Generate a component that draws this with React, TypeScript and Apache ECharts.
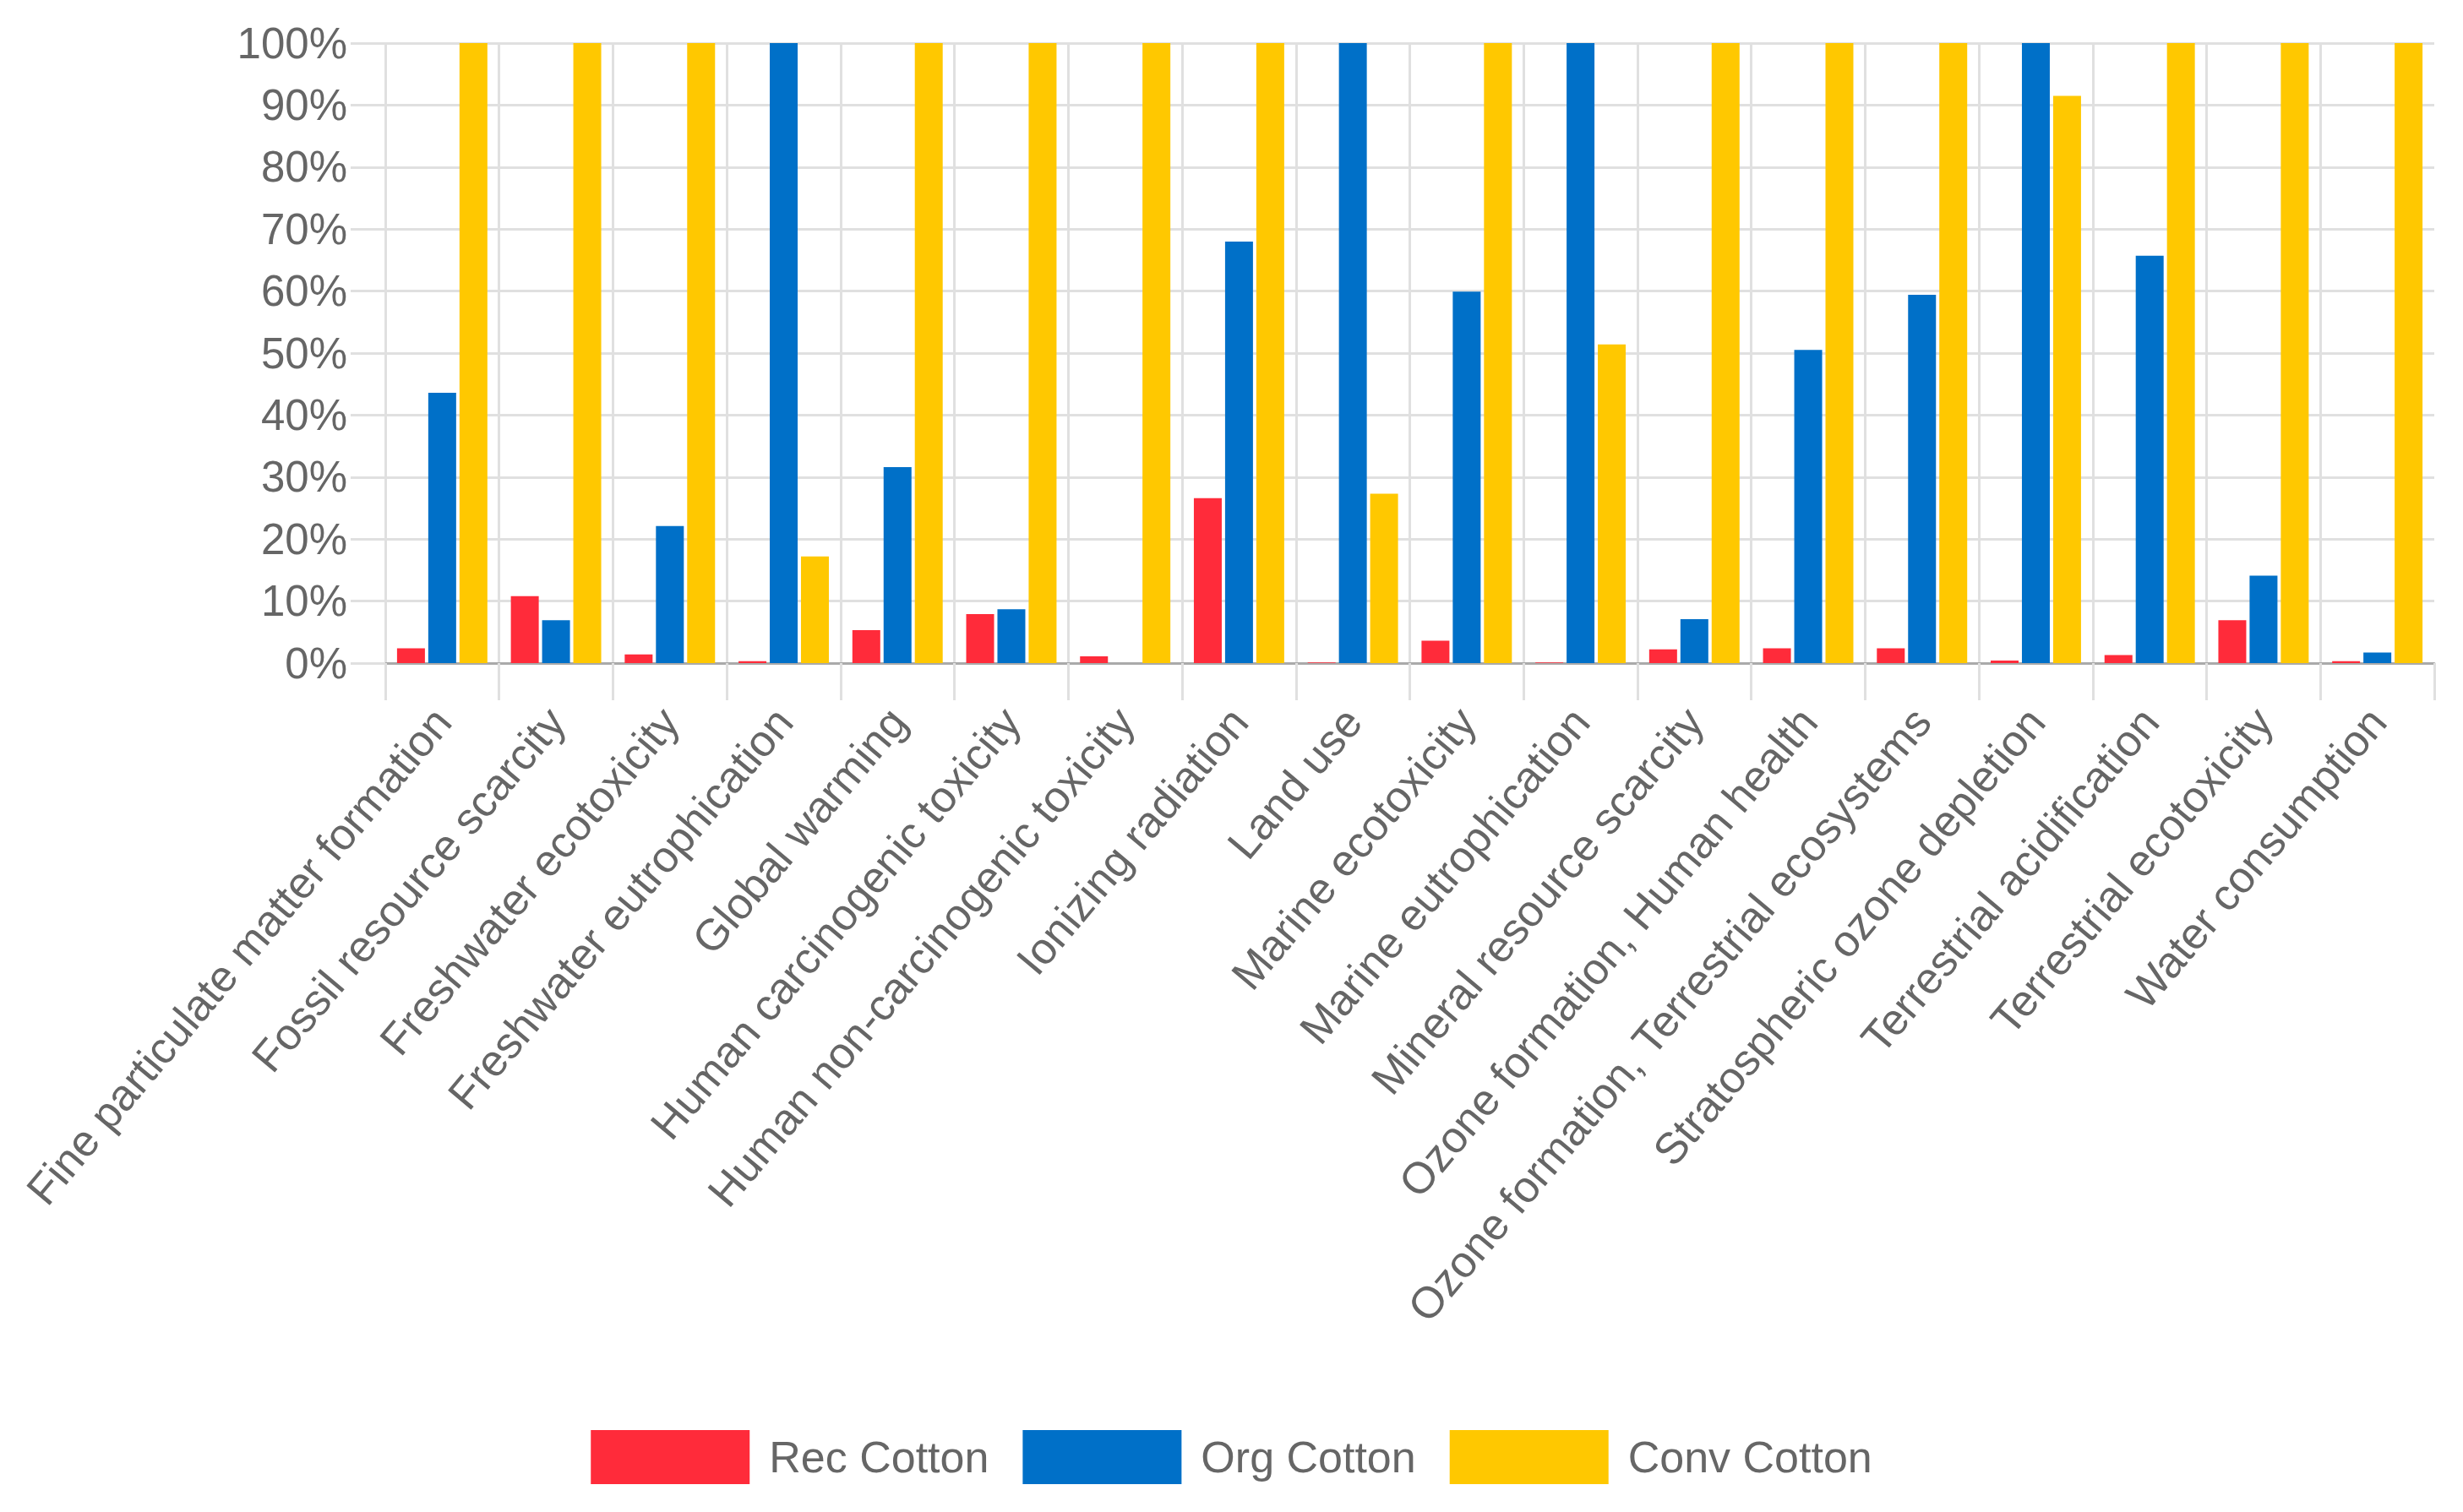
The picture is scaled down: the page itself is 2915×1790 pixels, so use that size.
import React, { useEffect, useRef } from 'react';
import * as echarts from 'echarts';

// impact categories (x axis)
const categories = [
  'Fine particulate matter formation',
  'Fossil resource scarcity',
  'Freshwater ecotoxicity',
  'Freshwater eutrophication',
  'Global warming',
  'Human carcinogenic toxicity',
  'Human non-carcinogenic toxicity',
  'Ionizing radiation',
  'Land use',
  'Marine ecotoxicity',
  'Marine eutrophication',
  'Mineral resource scarcity',
  'Ozone formation, Human health',
  'Ozone formation, Terrestrial ecosystems',
  'Stratospheric ozone depletion',
  'Terrestrial acidification',
  'Terrestrial ecotoxicity',
  'Water consumption',
];

// relative impact, % of the highest value in each category
const recCotton = [2.4, 10.8, 1.4, 0.3, 5.3, 7.9, 1.1, 26.6, 0.1, 3.6, 0.1, 2.2, 2.4, 2.4, 0.4, 1.3, 6.9, 0.3];
const orgCotton = [43.6, 6.9, 22.1, 100, 31.6, 8.7, 0, 68.0, 100, 59.9, 100, 7.1, 50.5, 59.4, 100, 65.7, 14.1, 1.7];
const convCotton = [100, 100, 100, 17.2, 100, 100, 100, 100, 27.3, 100, 51.4, 100, 100, 100, 91.5, 100, 100, 100];

const seriesNames = ['Rec Cotton', 'Org Cotton', 'Conv Cotton'];
const seriesColors = ['#ff2b3a', '#0070c8', '#ffc800'];

const FONT = '"Liberation Sans", Arial, sans-serif';
const GRID_COLOR = '#e0e0e0';

const App: React.FC = () => {
  const ref = useRef<HTMLDivElement>(null);

  useEffect(() => {
    document.body.style.margin = '0';
    if (!ref.current) return;
    const chart = echarts.init(ref.current, undefined, { renderer: 'svg' });

    const values = [recCotton, orgCotton, convCotton];

    chart.setOption({
      animation: false,
      backgroundColor: '#fff',
      textStyle: { fontFamily: FONT },
      grid: { left: 456, right: 34, top: 51, bottom: 1005 },
      legend: {
        left: 'center',
        top: 1688,
        icon: 'rect',
        itemWidth: 188,
        itemHeight: 64,
        itemGap: 40,
        textStyle: { fontSize: 52, color: '#666', fontFamily: FONT, padding: [0, 0, 0, 18] },
        data: seriesNames,
      },
      xAxis: {
        type: 'category',
        data: categories,
        axisLine: { lineStyle: { color: '#aaa', width: 3 } },
        axisTick: { show: true, length: 44, lineStyle: { color: GRID_COLOR, width: 3 } },
        axisLabel: {
          interval: 0,
          rotate: 50,
          margin: 60,
          fontSize: 52,
          color: '#666',
          fontFamily: FONT,
        },
        splitLine: { show: true, showMaxLine: false, lineStyle: { color: GRID_COLOR, width: 3 } },
      },
      yAxis: {
        type: 'value',
        min: 0,
        max: 100,
        interval: 10,
        axisLine: { show: false },
        axisTick: { show: true, length: 41, lineStyle: { color: GRID_COLOR, width: 3 } },
        axisLabel: {
          margin: 45,
          fontSize: 51,
          color: '#666',
          fontFamily: FONT,
          formatter: '{value}%',
        },
        splitLine: { lineStyle: { color: GRID_COLOR, width: 3 } },
      },
      series: seriesNames.map((name, i) => ({
        name,
        type: 'bar',
        data: values[i],
        barWidth: 33,
        barGap: '12%',
        itemStyle: { color: seriesColors[i] },
      })),
    });

    return () => chart.dispose();
  }, []);

  return <div ref={ref} style={{ width: 2915, height: 1790 }} />;
};

export default App;
